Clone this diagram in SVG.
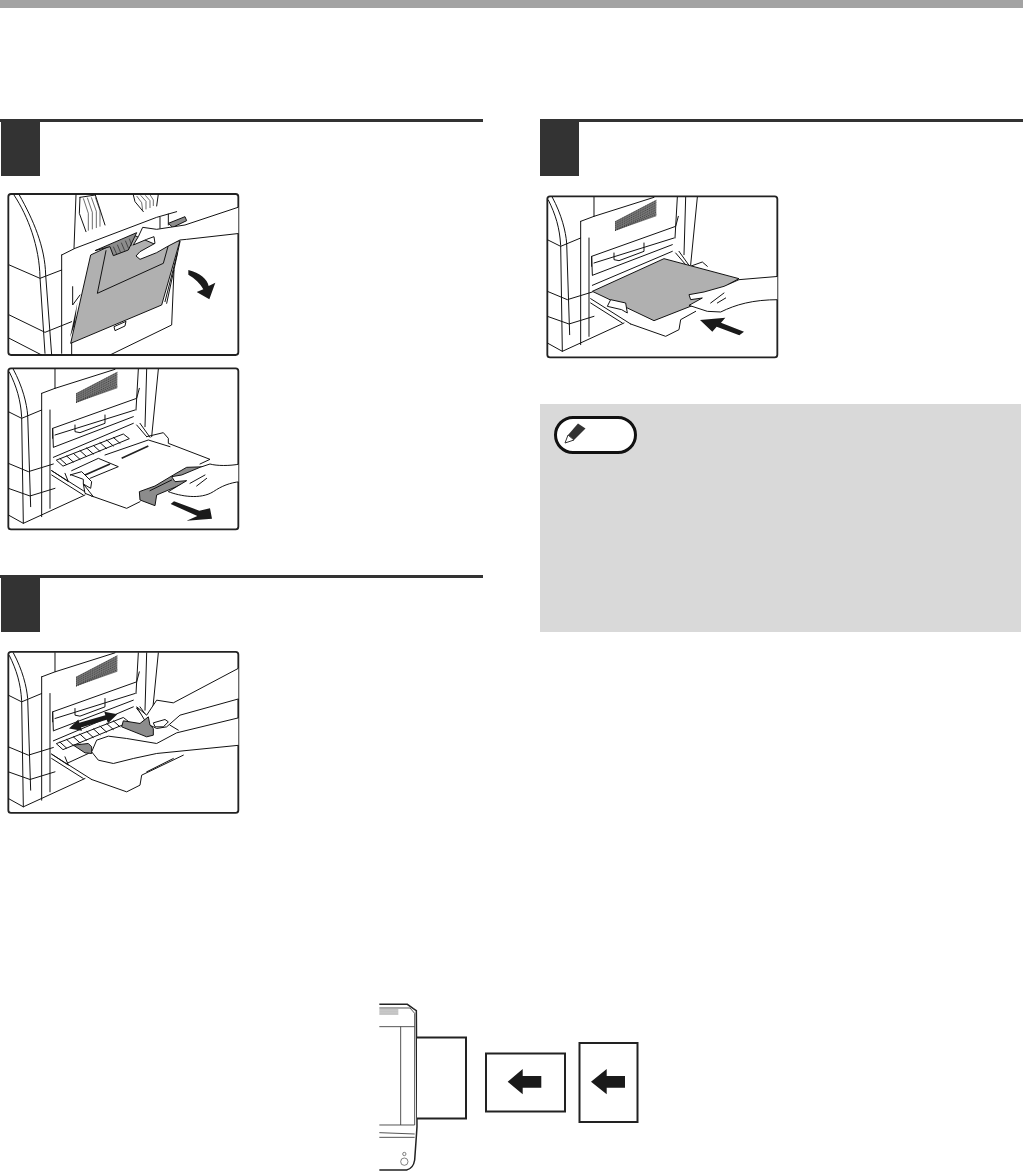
<svg xmlns="http://www.w3.org/2000/svg" width="1023" height="1171" viewBox="0 0 1023 1171">
<style>
.l{fill:none;stroke:#111;stroke-width:3;stroke-linejoin:round;stroke-linecap:round}
.t{fill:none;stroke:#222;stroke-width:2}
.g{stroke:#111;stroke-width:3;fill:#b0b0b0;stroke-linejoin:round}
.d{stroke:#111;stroke-width:3;fill:#8c8c8c;stroke-linejoin:round}
.w{stroke:#111;stroke-width:3;fill:#fff;stroke-linejoin:round}
.k{fill:#1a1a1a;stroke:none}
.f{fill:#fff;stroke:#222;stroke-width:5.500}
.step{fill:#333}
.rule{stroke:#333;stroke-width:3}
.sheet{fill:#fff;stroke:#222;stroke-width:2}
</style>
<defs>
<clipPath id="c"><rect x="25" y="25" width="690" height="483" rx="8"/></clipPath>
<clipPath id="c1"><rect x="25" y="42" width="690" height="483" rx="8"/></clipPath>
<g id="body">
<path class="l" d="M28,36C50,80 62,120 65,172L70,490M40,28C68,80 80,130 83,165L92,440M25,155L65,175L125,150M25,310L85,335L160,312M25,385L90,408L165,385M25,465L70,490L255,405M125,100V470M125,100L165,85M165,28V85L345,28M150,150V445M415,28L408,150M440,28L435,200M475,28L455,230M418,85L410,115L158,205V235M158,205L160,260M165,225L405,150M225,195V215L240,218L315,190V165M160,262L400,170M160,292L400,190"/>
<path d="M228,100L352,35V85L228,128Z" fill="#777"/>
<path class="t" stroke-dasharray="3 3" d="M228,102L352,37M228,108L352,44M228,114L352,51M228,120L352,58M228,126L352,65M228,128L352,72M228,128L352,79"/>
<path class="l" d="M155,332L275,408M155,345L250,405M410,195L440,230M420,190L450,232"/>
</g>
</defs>
<rect id="top-bar" width="1023" height="8" fill="#a3a3a3"/>
<g id="step-1"><line class="rule" x1="0" y1="120.500" x2="483" y2="120.500"/><rect class="step" x="1" y="122" width="39" height="54"/></g>
<g id="step-2"><line class="rule" x1="0" y1="576.500" x2="483" y2="576.500"/><rect class="step" x="1" y="578" width="39" height="54"/></g>
<g id="step-3"><line class="rule" x1="540" y1="120.500" x2="1023" y2="120.500"/><rect class="step" x="540" y="122" width="39" height="54"/></g>

<g id="panel-open" transform="translate(0,180) scale(.33333)">
<rect class="f" x="25" y="42" width="690" height="483" rx="8"/>
<g clip-path="url(#c1)">
<path class="l" d="M42,45C85,110 118,200 120,292L135,520M58,45C100,120 135,200 137,285L155,525M28,255L120,295L185,270M28,405L135,457L215,425M28,475L125,525M185,225V520M185,225L225,205L470,112L530,95M228,45L222,205M480,112V145M505,102V135M330,525L515,435L522,270M215,480V525M218,320V375L240,345"/>
<path class="l" d="M240,52L286,45M240,52L238,100L258,155M286,45L315,135M400,45L405,65L430,95M475,42L470,78"/>
<path class="t" d="M250,55L265,100V152M262,53L277,97V148M274,52L289,94V144M286,52L300,92V140M410,48L425,68L428,92M422,46L438,64V88M436,46L450,62V84M450,44L460,60V78"/>
<path class="d" d="M505,130L555,110L560,122L518,142Z"/>
<path class="g" d="M272,225L212,490L485,375L540,182L470,195L400,165Z"/>
<path class="l" d="M540,185L500,370M532,220L495,365"/>
<path class="l" d="M318,212L292,340L490,250L505,196"/>
<path class="d" d="M285,212L410,158L385,210L340,227L330,200Z"/>
<path class="t" d="M340,200L350,222M352,194L362,218M364,188L374,212M376,182L386,206M388,176L396,198"/>
<path class="w" d="M342,440L378,424L375,438L345,452Z"/>
<path class="k" d="M232,368L210,472L224,435Z"/>
<path class="w" d="M720,80L555,135L470,148L428,142L415,170L400,195L440,178L462,170L465,190L420,215L408,228L420,238L470,218L505,198L540,180L560,178L720,160Z"/>
<path class="k" d="M565,270C600,278 622,298 626,318L646,308L628,358L590,336L610,328C600,310 585,295 565,284Z"/>
</g></g>

<g id="panel-pull" transform="translate(0,360) scale(.33333)">
<rect class="f" x="25" y="25" width="690" height="483" rx="8"/>
<g clip-path="url(#c)">
<use href="#body"/>
<path class="l" d="M170,300L370,222L388,236L190,318ZM180,296L200,314M200,288L220,306M220,280L240,298M240,272L260,290M260,264L280,282M280,256L300,274M300,248L320,266M320,240L340,258M340,232L360,250"/>
<path class="l" d="M215,332L295,295L355,320L270,355M315,285L445,240L510,260M440,230L490,218L505,235V250L630,298L600,312M275,408L380,445L420,425M155,332L205,365L195,340"/>
<path d="M255,345L330,312M365,295L445,258" stroke="#222" stroke-width="5" fill="none"/>
<path class="w" d="M210,345L245,335L275,365L272,385L250,372V358L215,345Z"/>
<path class="w" d="M250,372L280,410L255,400Z"/>
<path class="d" d="M418,395L465,378L520,345L560,322L620,320L600,345L565,365L470,405L465,437L420,420Z"/>
<path class="w" d="M720,312C690,318 650,318 630,312L600,322L545,345L515,350L525,365L560,362L505,395C540,408 600,420 640,395C665,378 690,368 720,365Z"/>
<path class="l" d="M570,370L615,345M590,378L620,355M450,392L515,360"/>
<path class="k" d="M512,432L522,424L598,452L630,445L636,476L560,482L592,468Z"/>
</g></g>

<g id="panel-guides" transform="translate(0,643.500) scale(.33333)">
<rect class="f" x="25" y="25" width="690" height="483" rx="8"/>
<g clip-path="url(#c)">
<use href="#body"/>
<path class="l" d="M170,300L370,222L388,236L190,318ZM180,296L200,314M200,288L220,306M220,280L240,298M240,272L260,290M260,264L280,282M280,256L300,274M300,248L320,266M320,240L340,258M340,232L360,250"/>
<path class="l" d="M275,408L380,445L420,425L425,395L550,335M440,385L520,345M200,360L265,330M155,332L205,365L195,340M510,245L535,260"/>
<path class="w" d="M720,72L520,178L470,170L440,215L410,190L440,240L470,255L500,250L540,215L720,165Z"/>
<path class="d" d="M370,232L420,240L445,220L450,245L460,255V275L440,280L365,250Z"/>
<path class="w" d="M460,238L495,228L505,235L490,250L465,250Z"/>
<path class="d" d="M220,305L265,300L275,310L275,330L255,328Z"/>
<path class="w" d="M720,222L530,268L470,300L380,285L325,278L290,290L275,325L295,350L340,360L400,345L470,330L720,305Z"/>
<path class="k" d="M207,255L235,228L238,238L316,215L313,205L352,212L324,239L320,229L243,252L246,262Z"/>
</g></g>

<g id="panel-load" transform="translate(539,188) scale(.33333)">
<rect class="f" x="25" y="25" width="690" height="483" rx="8"/>
<g clip-path="url(#c)">
<use href="#body"/>
<path class="l" d="M275,408L380,445L420,425L425,395L470,370M440,240L490,222L505,235"/>
<path class="g" d="M160,310L375,212L600,272L570,288L480,345L345,398Z"/>
<path class="w" d="M205,355L215,335L260,345L265,375L248,365Z"/>
<path class="w" d="M720,265L600,275L555,295L495,312L450,320L455,335L490,330L450,352L505,370L545,372C590,350 640,335 720,335Z"/>
<path class="l" d="M515,345L555,315M535,345L560,330"/>
<path class="k" d="M483,396L559,389L546,404L615,431L601,442L533,416L520,431Z"/>
</g></g>

<g id="note">
<rect x="540" y="404" width="481" height="228" fill="#d9d9d9"/>
<rect x="555.500" y="417.500" width="80" height="35" rx="17.500" fill="#fff" stroke="#111" stroke-width="3"/>
<path d="M568,435L578,423.500L585.500,428.500L574,440Z" fill="#333"/>
<path d="M565,443L568,435L574,440Z" fill="#fff" stroke="#333" stroke-width="1"/>
</g>

<g id="machine-top" transform="translate(370,990) scale(.33333)">
<path d="M28,43H112L130,56L139,62L141,410L139,440L134,510Q130,535 110,540H28" fill="none" stroke="#222" stroke-width="4.500"/>
<path d="M28,54H120L134,70V405M28,110H134M92,110V405M28,405H134M28,428L134,432M28,442H134" fill="none" stroke="#333" stroke-width="2.500"/>
<path d="M28,60H85M28,66H85M28,72H85" fill="none" stroke="#555" stroke-width="2"/>
<circle cx="103" cy="492" r="5" fill="none" stroke="#444" stroke-width="2"/>
<circle cx="103" cy="515" r="11" fill="none" stroke="#444" stroke-width="2"/>
</g>
<g id="paper-bypass"><path d="M417,1037.500H466V1118.500H417" fill="#fff" stroke="#222" stroke-width="2"/></g>
<g id="paper-landscape"><rect class="sheet" x="486" y="1053.500" width="79" height="58"/><path class="k" d="M507.700,1081.700L522.700,1069V1076H541.300V1087.700H522.700V1094.300Z"/></g>
<g id="paper-portrait"><rect class="sheet" x="579.500" y="1043" width="58" height="79"/><path class="k" d="M591,1081.700L606.700,1069V1076H625V1087.700H606.700V1094.300Z"/></g>
</svg>
